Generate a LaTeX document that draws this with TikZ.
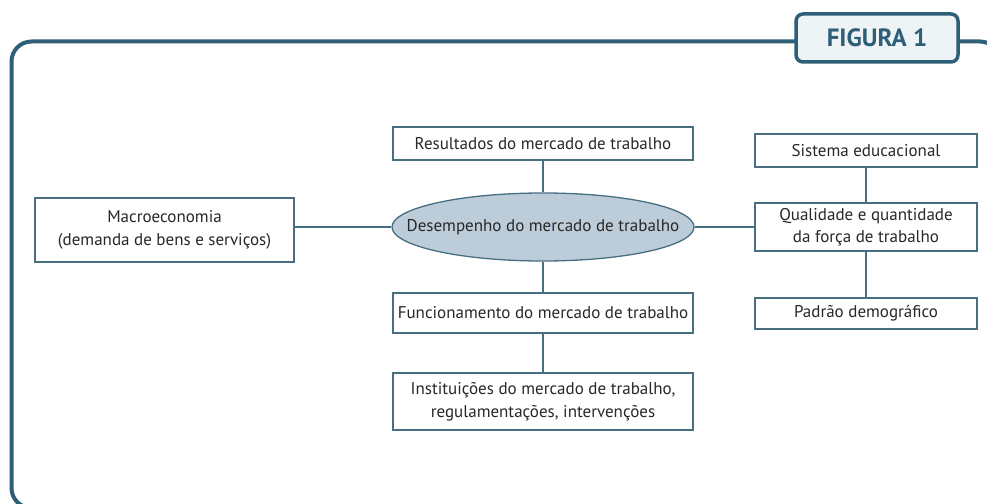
\documentclass[tikz,border=0pt]{standalone}
\usepackage{fontspec}
\setmainfont{PT Sans}
\usetikzlibrary{shapes.geometric}
\definecolor{frameteal}{RGB}{46,94,120}
\definecolor{boxline}{RGB}{72,110,130}
\definecolor{ellfill}{RGB}{188,204,217}
\definecolor{tabfill}{RGB}{238,243,246}
\definecolor{txtgray}{RGB}{40,40,40}
\tikzset{
  infobox/.style={draw=boxline, line width=1.3pt, fill=white, text=txtgray,
    inner sep=0pt, align=center, font=\fontsize{17}{22.5}\selectfont},
  link/.style={draw=boxline, line width=1.3pt}
}
\begin{document}
\begin{tikzpicture}[x=1pt,y=-1pt]
\useasboundingbox (0,0) rectangle (987,503);
%% Frame and tab
\draw[frameteal, line width=4pt, rounded corners=20pt] (11.5,41.5) rectangle (1000,508);
\node[draw=frameteal, line width=3.5pt, fill=tabfill, rounded corners=7pt,
  minimum width=162pt, minimum height=48pt, inner sep=0pt, text=frameteal,
  font=\fontsize{25}{28}\selectfont\bfseries] (tab) at (877,38) {FIGURA 1};
%% Central column
\node[ellipse, draw=boxline, line width=1.3pt, fill=ellfill, text=txtgray,
  inner xsep=-30pt, inner ysep=0pt, minimum width=302pt, minimum height=68pt,
  font=\fontsize{17}{22.5}\selectfont] (ell) at (543,227) {Desempenho do mercado de trabalho};
\node[infobox, minimum width=300pt, minimum height=33pt] (res) at (543,143.5) {Resultados do mercado de trabalho};
\node[infobox, minimum width=300pt, minimum height=40pt] (fun) at (543,313) {Funcionamento do mercado de trabalho};
\node[infobox, minimum width=300pt, minimum height=57pt] (inst) at (543,401.5) {Instituições do mercado de trabalho,\\regulamentações, intervenções};
%% Left
\node[infobox, minimum width=259pt, minimum height=64pt] (macro) at (164.5,230) {Macroeconomia\\(demanda de bens e serviços)};
%% Right column
\node[infobox, minimum width=222pt, minimum height=33pt] (sis) at (866,150.5) {Sistema educacional};
\node[infobox, minimum width=222pt, minimum height=48pt] (qual) at (866,227) {Qualidade e quantidade\\da força de trabalho};
\node[infobox, minimum width=222pt, minimum height=31pt] (pad) at (866,313.5) {Padrão demográfico};
%% Connectors
\draw[link] (res) -- (ell);
\draw[link] (ell) -- (fun);
\draw[link] (fun) -- (inst);
\draw[link] (ell.west) -- (ell.west -| macro.east);
\draw[link] (ell.east) -- (qual.west);
\draw[link] (sis) -- (qual);
\draw[link] (qual) -- (pad);
\end{tikzpicture}
\end{document}
